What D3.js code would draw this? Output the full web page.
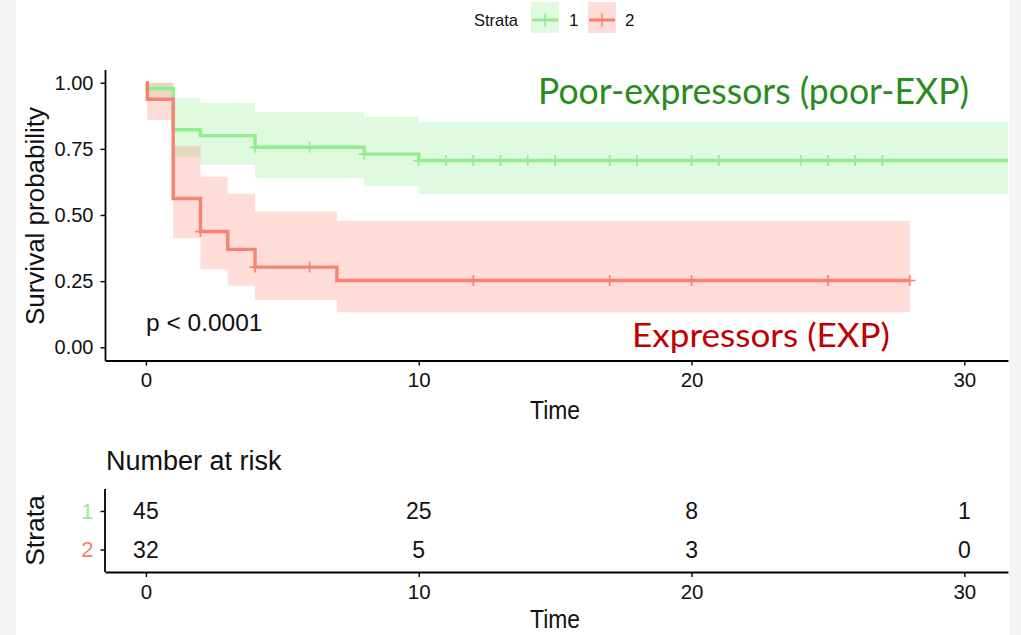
<!DOCTYPE html>
<html>
<head>
<meta charset="utf-8">
<script src="https://cdn.jsdelivr.net/npm/d3@7"></script>
<style>
  html, body { margin: 0; padding: 0; background: #fff; }
  svg { display: block; }
</style>
</head>
<body>
<svg id="km" width="1021" height="635" font-family="Liberation Sans, Arial, sans-serif" fill="#111"></svg>
<script>
// ---- Kaplan-Meier estimates per stratum (step starts) ----
const strataNames = ["1", "2"];
const strataColors = ["#90EE90", "#FA8072"];

const times1 = [0, 0.05, 1, 2, 4, 8, 10];
const surv1  = [1, 0.978, 0.822, 0.8, 0.756, 0.73, 0.706];
const upper1 = [1, 1, 0.941, 0.924, 0.888, 0.871, 0.851];
const lower1 = [1, 0.941, 0.718, 0.69, 0.639, 0.61, 0.579];
const end1 = 33;
const censor1 = [4, 6, 8, 10, 11, 12, 13, 14, 15, 17, 18, 20, 21, 24, 25, 26, 27];

const times2 = [0, 0.05, 1, 2, 3, 4, 7];
const surv2  = [1, 0.9375, 0.5625, 0.4375, 0.37, 0.303, 0.2525];
const upper2 = [1, 1, 0.761, 0.645, 0.58, 0.513, 0.477];
const lower2 = [1, 0.859, 0.412, 0.295, 0.233, 0.179, 0.132];
const end2 = 28;
const censor2 = [2, 4, 6, 12, 17, 20, 25, 28];

// ---- Number at risk table ----
const riskTimes = [0, 10, 20, 30];
const risk1 = [45, 25, 8, 1];
const risk2 = [32, 5, 3, 0];

// ---- Axis ticks ----
const timeTicks = [0, 10, 20, 30];
const survTicks = [0, 0.25, 0.5, 0.75, 1];
const pValueLabel = "p < 0.0001";

const svg = d3.select("#km");
const W = 1021, H = 635;
const FONT = "Liberation Sans, Arial, sans-serif";

// page framing strips
svg.append("rect").attr("width", W).attr("height", H).attr("fill", "#f5f5f5");
svg.append("rect").attr("x", 16).attr("width", 993).attr("height", H).attr("fill", "#fff");

const x = d3.scaleLinear().domain([-1.5, 31.6]).range([105, 1008]);
const y = d3.scaleLinear().domain([-0.05, 1.05]).range([360.5, 69.5]);

const series = [
  { name: "1", color: strataColors[0], t: times1, s: surv1, up: upper1, lo: lower1, end: end1, cens: censor1 },
  { name: "2", color: strataColors[1], t: times2, s: surv2, up: upper2, lo: lower2, end: end2, cens: censor2 }
];

svg.append("clipPath").attr("id", "plotClip")
  .append("rect").attr("x", 105).attr("y", 69.5).attr("width", 903).attr("height", 291);

const plot = svg.append("g").attr("clip-path", "url(#plotClip)");

function stepPoints(ser, key) {
  const pts = ser.t.map((t, i) => ({ t, v: ser[key][i] }));
  pts.push({ t: ser.end, v: ser[key][ser[key].length - 1] });
  return pts;
}

// confidence ribbons
series.forEach(ser => {
  const pts = ser.t.map((t, i) => ({ t, up: ser.up[i], lo: ser.lo[i] }));
  pts.push({ t: ser.end, up: ser.up[ser.up.length - 1], lo: ser.lo[ser.lo.length - 1] });
  const area = d3.area().curve(d3.curveStepAfter)
    .x(d => x(d.t)).y0(d => y(d.lo)).y1(d => y(d.up));
  plot.append("path").datum(pts).attr("d", area)
    .attr("fill", ser.color).attr("fill-opacity", 0.28);
});

// survival curves
series.forEach(ser => {
  const line = d3.line().curve(d3.curveStepAfter).x(d => x(d.t)).y(d => y(d.v));
  plot.append("path").datum(stepPoints(ser, "s")).attr("d", line)
    .attr("fill", "none").attr("stroke", ser.color).attr("stroke-width", 3.4);
});

// censoring marks
function survAt(ser, t) {
  let v = ser.s[0];
  ser.t.forEach((tt, i) => { if (tt <= t) v = ser.s[i]; });
  return v;
}
series.forEach(ser => {
  const g = plot.append("g").attr("stroke", ser.color).attr("stroke-width", 1.7);
  ser.cens.forEach(t => {
    const cx = x(t), cy = y(survAt(ser, t));
    g.append("line").attr("x1", cx).attr("x2", cx).attr("y1", cy - 5.5).attr("y2", cy + 5.5);
    g.append("line").attr("x1", cx - 5.5).attr("x2", cx + 5.5).attr("y1", cy).attr("y2", cy);
  });
});

function styleAxis(a, size) {
  a.select(".domain").attr("stroke", "#000").attr("stroke-width", 1.8);
  a.selectAll(".tick line").attr("stroke", "#000").attr("stroke-width", 1.4);
  a.selectAll(".tick text").attr("font-size", size).attr("fill", "#111").attr("font-family", FONT);
}

// axes of the survival panel
const yAxis = svg.append("g").attr("transform", "translate(105,0)")
  .call(d3.axisLeft(y).tickValues(survTicks).tickFormat(d3.format(".2f")).tickSize(4.5).tickSizeOuter(0).tickPadding(7));
const xAxis = svg.append("g").attr("transform", "translate(0,360.5)")
  .call(d3.axisBottom(x).tickValues(timeTicks).tickSize(5).tickSizeOuter(0).tickPadding(7));
styleAxis(yAxis, 20);
styleAxis(xAxis, 20.5);

svg.append("text").attr("transform", "translate(44,216) rotate(-90)")
  .attr("text-anchor", "middle").attr("font-size", 26).text("Survival probability");
svg.append("text").attr("x", 530).attr("y", 419)
  .attr("font-size", 26).attr("textLength", 50).attr("lengthAdjust", "spacingAndGlyphs").text("Time");

svg.append("text").attr("x", 146).attr("y", 331).attr("font-size", 24.5).text(pValueLabel);

// group annotations
svg.append("text").attr("x", 538).attr("y", 103.5)
  .attr("font-family", "Lato, 'Open Sans', sans-serif").attr("font-size", 36)
  .attr("textLength", 431).attr("lengthAdjust", "spacingAndGlyphs")
  .attr("fill", "#2A8C1E").text("Poor-expressors (poor-EXP)");
svg.append("text").attr("x", 632).attr("y", 347)
  .attr("font-family", "Lato, 'Open Sans', sans-serif").attr("font-size", 33)
  .attr("textLength", 258).attr("lengthAdjust", "spacingAndGlyphs")
  .attr("fill", "#C00000").text("Expressors (EXP)");

// legend
const legend = svg.append("g");
legend.append("text").attr("x", 474).attr("y", 26).attr("font-size", 17)
  .attr("textLength", 44).attr("lengthAdjust", "spacingAndGlyphs").text("Strata");
const keyX = [531, 588], labX = [569, 625];
series.forEach((ser, i) => {
  legend.append("rect").attr("x", keyX[i]).attr("y", 2).attr("width", 28).attr("height", 31)
    .attr("fill", ser.color).attr("fill-opacity", 0.28);
  legend.append("line").attr("x1", keyX[i] + 1).attr("x2", keyX[i] + 27).attr("y1", 20).attr("y2", 20)
    .attr("stroke", ser.color).attr("stroke-width", 3);
  legend.append("line").attr("x1", keyX[i] + 14).attr("x2", keyX[i] + 14).attr("y1", 13.5).attr("y2", 26.5)
    .attr("stroke", ser.color).attr("stroke-width", 1.6);
  legend.append("text").attr("x", labX[i]).attr("y", 26).attr("font-size", 17).text(ser.name);
});

// ---- risk table ----
const yr = d3.scalePoint().domain(strataNames).range([511, 549.5]);
svg.append("text").attr("x", 106).attr("y", 470).attr("font-size", 27).text("Number at risk");

const riskRows = [risk1, risk2];
riskRows.forEach((row, r) => {
  row.forEach((n, i) => {
    svg.append("text").attr("x", x(riskTimes[i])).attr("y", yr(strataNames[r]))
      .attr("dy", "0.36em").attr("text-anchor", "middle").attr("font-size", 23).text(n);
  });
});

const ryAxis = svg.append("g").attr("transform", "translate(105,0)")
  .call(d3.axisLeft(yr).tickSize(4.5).tickSizeOuter(0).tickPadding(7));
ryAxis.select(".domain").attr("d", "M0,489V572");
const rxAxis = svg.append("g").attr("transform", "translate(0,572)")
  .call(d3.axisBottom(x).tickValues(timeTicks).tickSize(5).tickSizeOuter(0).tickPadding(7));
styleAxis(ryAxis, 22);
styleAxis(rxAxis, 20.5);
ryAxis.selectAll(".tick text").attr("fill", (d, i) => strataColors[i]);

svg.append("text").attr("transform", "translate(44,530.5) rotate(-90)")
  .attr("text-anchor", "middle").attr("font-size", 26.5).text("Strata");
svg.append("text").attr("x", 530).attr("y", 628)
  .attr("font-size", 25).attr("textLength", 50).attr("lengthAdjust", "spacingAndGlyphs").text("Time");
</script>
</body>
</html>
